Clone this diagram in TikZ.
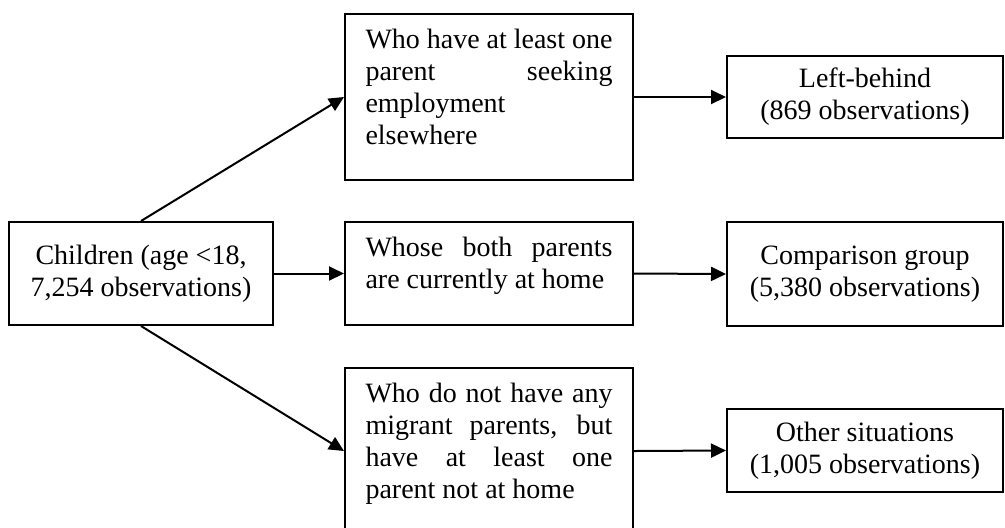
\documentclass[tikz,border=0pt]{standalone}
\usepackage{fontspec}
\setmainfont{Liberation Serif}
\usetikzlibrary{positioning,arrows.meta}

\begin{document}
\begin{tikzpicture}[x=0.5pt,y=-0.5pt,
            font=\fontsize{14}{16}\selectfont,
            box/.style={draw,line width=1pt,inner sep=0pt,align=center},
            txt/.style={inner sep=0pt,text width=123.5pt,align=justify},
            arr/.style={line width=1pt,-{Triangle[length=7.5pt,width=7pt]}}]
            \useasboundingbox (0,0) rectangle (1005,527);
            \clip (0,0) rectangle (1005,527);
            % left column
            \node [box,minimum width=132pt,minimum height=51.5pt] (child) at (141,273.5) {Children (age <18,\\7,254 observations)};
            % middle column
            \node [box,minimum width=144pt,minimum height=83pt] (seek) at (489,97) {};
            \node [box,minimum width=144pt,minimum height=51.5pt] (home) at (489,273.5) {};
            \node [box,minimum width=144pt,minimum height=83pt] (away) at (489,451) {};
            \node [txt,below=8pt of seek.north] (seekT) {Who have at least one\linebreak parent seeking\linebreak employment\\elsewhere};
            \node [txt,below=8pt of home.north] (homeT) {Whose both parents\linebreak are currently at home};
            \node [txt,below=8pt of away.north] (awayT) {Who do not have any\linebreak migrant parents, but\linebreak have at least one\linebreak parent not at home};
            % right column
            \node [box,minimum width=138pt,minimum height=41pt] (left) at (865,97) {Left-behind\\(869 observations)};
            \node [box,minimum width=138pt,minimum height=52pt] (comp) at (865,274) {Comparison group\\(5,380 observations)};
            \node [box,minimum width=138pt,minimum height=41.5pt] (other) at (865,450.5) {Other situations\\(1,005 observations)};
            % arrows
            \draw [arr] (child.north) -- (seek.west);
            \draw [arr] (child.east) -- (home.west);
            \draw [arr] (child.south) -- (away.west);
            \draw [arr] (seek.east) -- (left.west);
            \draw [arr] (home.east) -- (comp.west);
            \draw [arr] (away.east) -- (other.west);
\end{tikzpicture}
\end{document}
